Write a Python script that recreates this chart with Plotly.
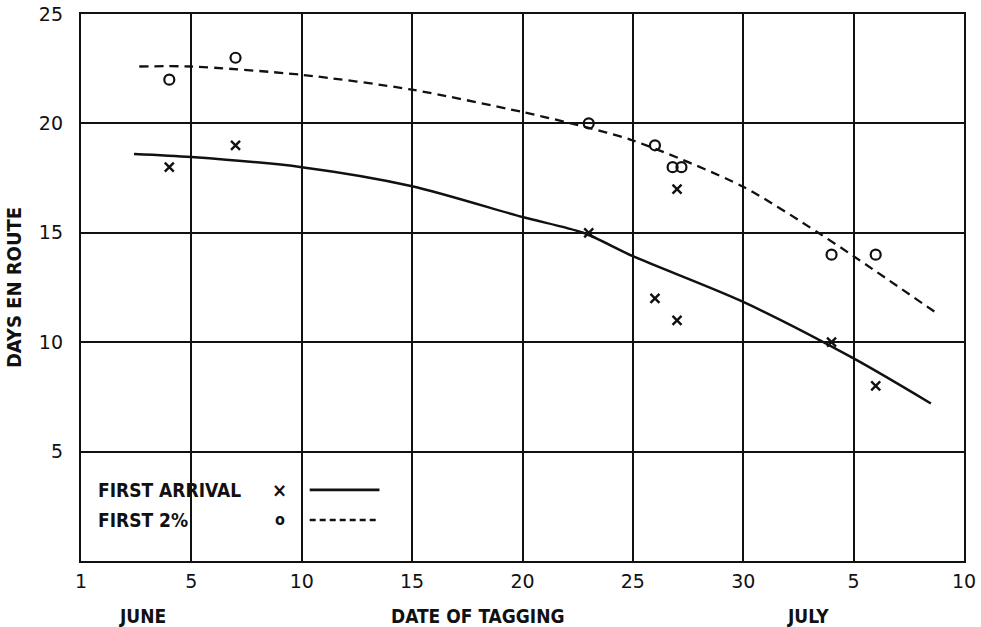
import plotly.graph_objects as go

# Day numbers: June n -> n, July n -> 30 + n
arrival_day = [4, 7, 23, 26, 27, 27, 34, 36]
arrival_val = [18, 19, 15, 12, 11, 17, 10, 8]

two_pct_day = [4, 7, 23, 26, 26.8, 27.2, 34, 36]
two_pct_val = [22, 23, 20, 19, 18, 18, 14, 14]

arrival_curve_day = [2.4, 5, 10, 15, 20, 22.75, 25, 30, 35, 38.5]
arrival_curve_val = [18.6, 18.46, 18.0, 17.13, 15.72, 15.0, 13.93, 11.84, 9.26, 7.2]

two_pct_curve_day = [2.64, 5, 10, 15, 20, 22.2, 25, 30, 33.4, 35, 38.8]
two_pct_curve_val = [22.6, 22.6, 22.22, 21.54, 20.52, 20.0, 19.22, 17.1, 15.0, 13.93, 11.3]

x_tickvals = [0, 5, 10, 15, 20, 25, 30, 35, 40]
x_ticktext = ["1", "5", "10", "15", "20", "25", "30", "5", "10"]
y_tickvals = [5, 10, 15, 20, 25]
y_ticktext = ["5", "10", "15", "20", "25"]

FONT = "DejaVu Sans Condensed, DejaVu Sans, sans-serif"
INK = "#111111"
LBL = dict(family=FONT, size=19, color=INK, weight="bold")

fig = go.Figure()

fig.add_trace(go.Scatter(x=arrival_curve_day, y=arrival_curve_val, mode="lines",
                         line=dict(color=INK, width=2.5, shape="spline", smoothing=0.8),
                         showlegend=False, hoverinfo="skip"))
fig.add_trace(go.Scatter(x=two_pct_curve_day, y=two_pct_curve_val, mode="lines",
                         line=dict(color=INK, width=2.3, dash="9px,6px", shape="spline", smoothing=0.8),
                         showlegend=False, hoverinfo="skip"))
fig.add_trace(go.Scatter(x=arrival_day, y=arrival_val, mode="markers",
                         marker=dict(symbol="x-thin", size=9, line=dict(color=INK, width=2.4)),
                         showlegend=False))
fig.add_trace(go.Scatter(x=two_pct_day, y=two_pct_val, mode="markers",
                         marker=dict(symbol="circle-open", size=10, color=INK, line=dict(color=INK, width=2.2)),
                         showlegend=False))

# Hand-drawn style legend inside the plot
legend_rows = [("FIRST ARRIVAL", "×", "solid", 0.130), ("FIRST 2%", "o", "dash", 0.075)]
for label, sym, dash, yy in legend_rows:
    fig.add_annotation(x=0.017, y=yy, xref="paper", yref="paper", text=label, showarrow=False,
                       xanchor="left", yanchor="middle", font=LBL)
    fig.add_annotation(x=0.225, y=yy, xref="paper", yref="paper", text=sym, showarrow=False,
                       xanchor="center", yanchor="middle",
                       font=dict(family=FONT, size=20 if sym == "×" else 16, color=INK, weight="bold"))
    fig.add_shape(type="line", xref="paper", yref="paper", x0=0.259, x1=0.338, y0=yy, y1=yy,
                  line=dict(color=INK, width=2.6, dash="6px,4px" if dash == "dash" else "solid"))

for text, xx in [("JUNE", 0.070), ("DATE OF TAGGING", 0.450), ("JULY", 0.823)]:
    fig.add_annotation(x=xx, y=-0.100, xref="paper", yref="paper", text=text, showarrow=False,
                       xanchor="center", yanchor="middle", font=LBL)

fig.update_layout(
    width=981, height=627,
    margin=dict(l=81, r=17, t=14, b=66, autoexpand=False),
    paper_bgcolor="white", plot_bgcolor="white",
    font=dict(family=FONT, size=18, color=INK),
    xaxis=dict(range=[0, 40], tickvals=x_tickvals, ticktext=x_ticktext,
               showgrid=True, gridcolor=INK, gridwidth=1.6,
               showline=True, linecolor=INK, linewidth=2.4, mirror=True,
               ticks="", zeroline=False, ticklabelstandoff=2,
               tickfont=dict(family="DejaVu Sans, sans-serif", size=19, color=INK)),
    yaxis=dict(range=[0, 25], tickvals=y_tickvals, ticktext=y_ticktext,
               showgrid=True, gridcolor=INK, gridwidth=1.6,
               showline=True, linecolor=INK, linewidth=2.4, mirror=True,
               ticks="", zeroline=False, ticklabelstandoff=12,
               tickfont=dict(family="DejaVu Sans, sans-serif", size=19, color=INK),
               title=dict(text="DAYS EN ROUTE", standoff=12,
                          font=dict(family=FONT, size=20, color=INK, weight="bold"))),
)

# remove the default page margin so the figure fills the window exactly
fig.write_html("out.html",
               config={"displayModeBar": False},
               post_script="document.body.style.margin='0';document.body.style.overflow='hidden';")
